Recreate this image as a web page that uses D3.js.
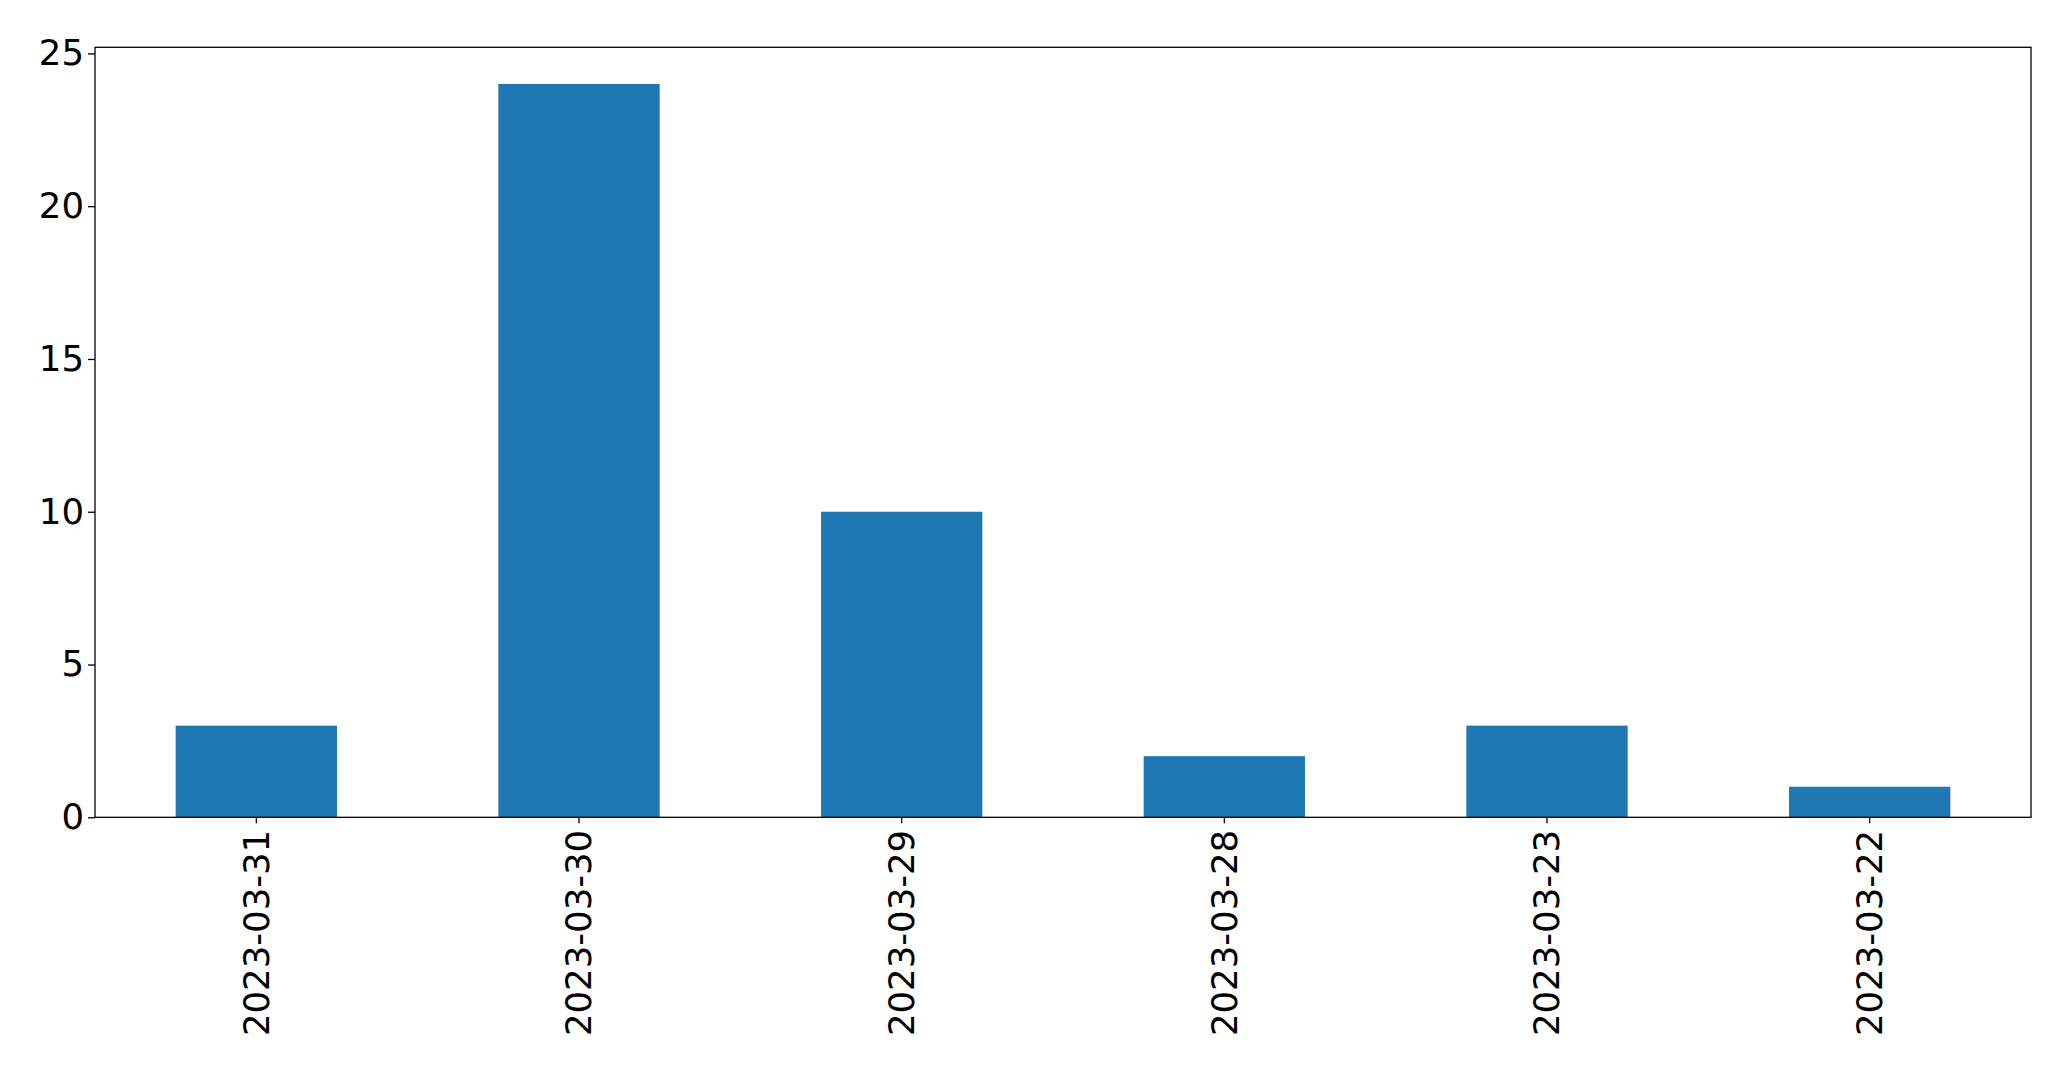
<!DOCTYPE html>
<html><head><meta charset="utf-8">
<script src="https://cdn.jsdelivr.net/npm/d3@7"></script>
<style>body{margin:0;background:#fff}</style>
</head><body>
<script>
const categories = ["2023-03-31","2023-03-30","2023-03-29","2023-03-28","2023-03-23","2023-03-22"];
const values = [3, 24, 10, 2, 3, 1];
const yTicks = [0, 5, 10, 15, 20, 25];

const W = 2071, H = 1069;
const m = {left: 95, right: 2031, top: 47.3, bottom: 817.3};
const svg = d3.select("body").append("svg").attr("width", W).attr("height", H)
  .style("font-family", "'DejaVu Sans', sans-serif");

const x = d3.scaleBand().domain(categories).range([m.left, m.right]).paddingInner(0.5).paddingOuter(0.25);
const y = d3.scaleLinear().domain([0, 24 * 1.05]).range([m.bottom, m.top]);

svg.append("g").selectAll("rect").data(values).join("rect")
  .attr("x", (d, i) => x(categories[i]))
  .attr("width", x.bandwidth())
  .attr("y", d => y(d))
  .attr("height", d => y(0) - y(d))
  .attr("fill", "#1f77b4");

const fs = 35.5;
const yAxis = svg.append("g").attr("transform", `translate(${m.left},0)`)
  .call(d3.axisLeft(y).tickValues(yTicks).tickSize(7).tickPadding(4).tickFormat(d3.format("d")));
yAxis.select(".domain").remove();
yAxis.selectAll("text").style("font-size", fs + "px").attr("fill", "#000").attr("font-family", "'DejaVu Sans', sans-serif");
yAxis.selectAll("line").attr("stroke", "#000").attr("stroke-width", 1.3);

const xAxis = svg.append("g").attr("transform", `translate(0,${m.bottom})`)
  .call(d3.axisBottom(x).tickSize(6).tickPadding(0));
xAxis.select(".domain").remove();
xAxis.selectAll("line").attr("stroke", "#000").attr("stroke-width", 1.3);
xAxis.selectAll("text")
  .style("font-size", fs + "px").attr("fill", "#000").attr("font-family", "'DejaVu Sans', sans-serif")
  .attr("text-anchor", "end")
  .attr("transform", "translate(0,12.5) rotate(-90)")
  .attr("x", 0).attr("y", 0).attr("dy", "0.35em");

svg.append("rect").attr("x", m.left).attr("y", m.top)
  .attr("width", m.right - m.left).attr("height", m.bottom - m.top)
  .attr("fill", "none").attr("stroke", "#000").attr("stroke-width", 1.3);
</script>
</body></html>
